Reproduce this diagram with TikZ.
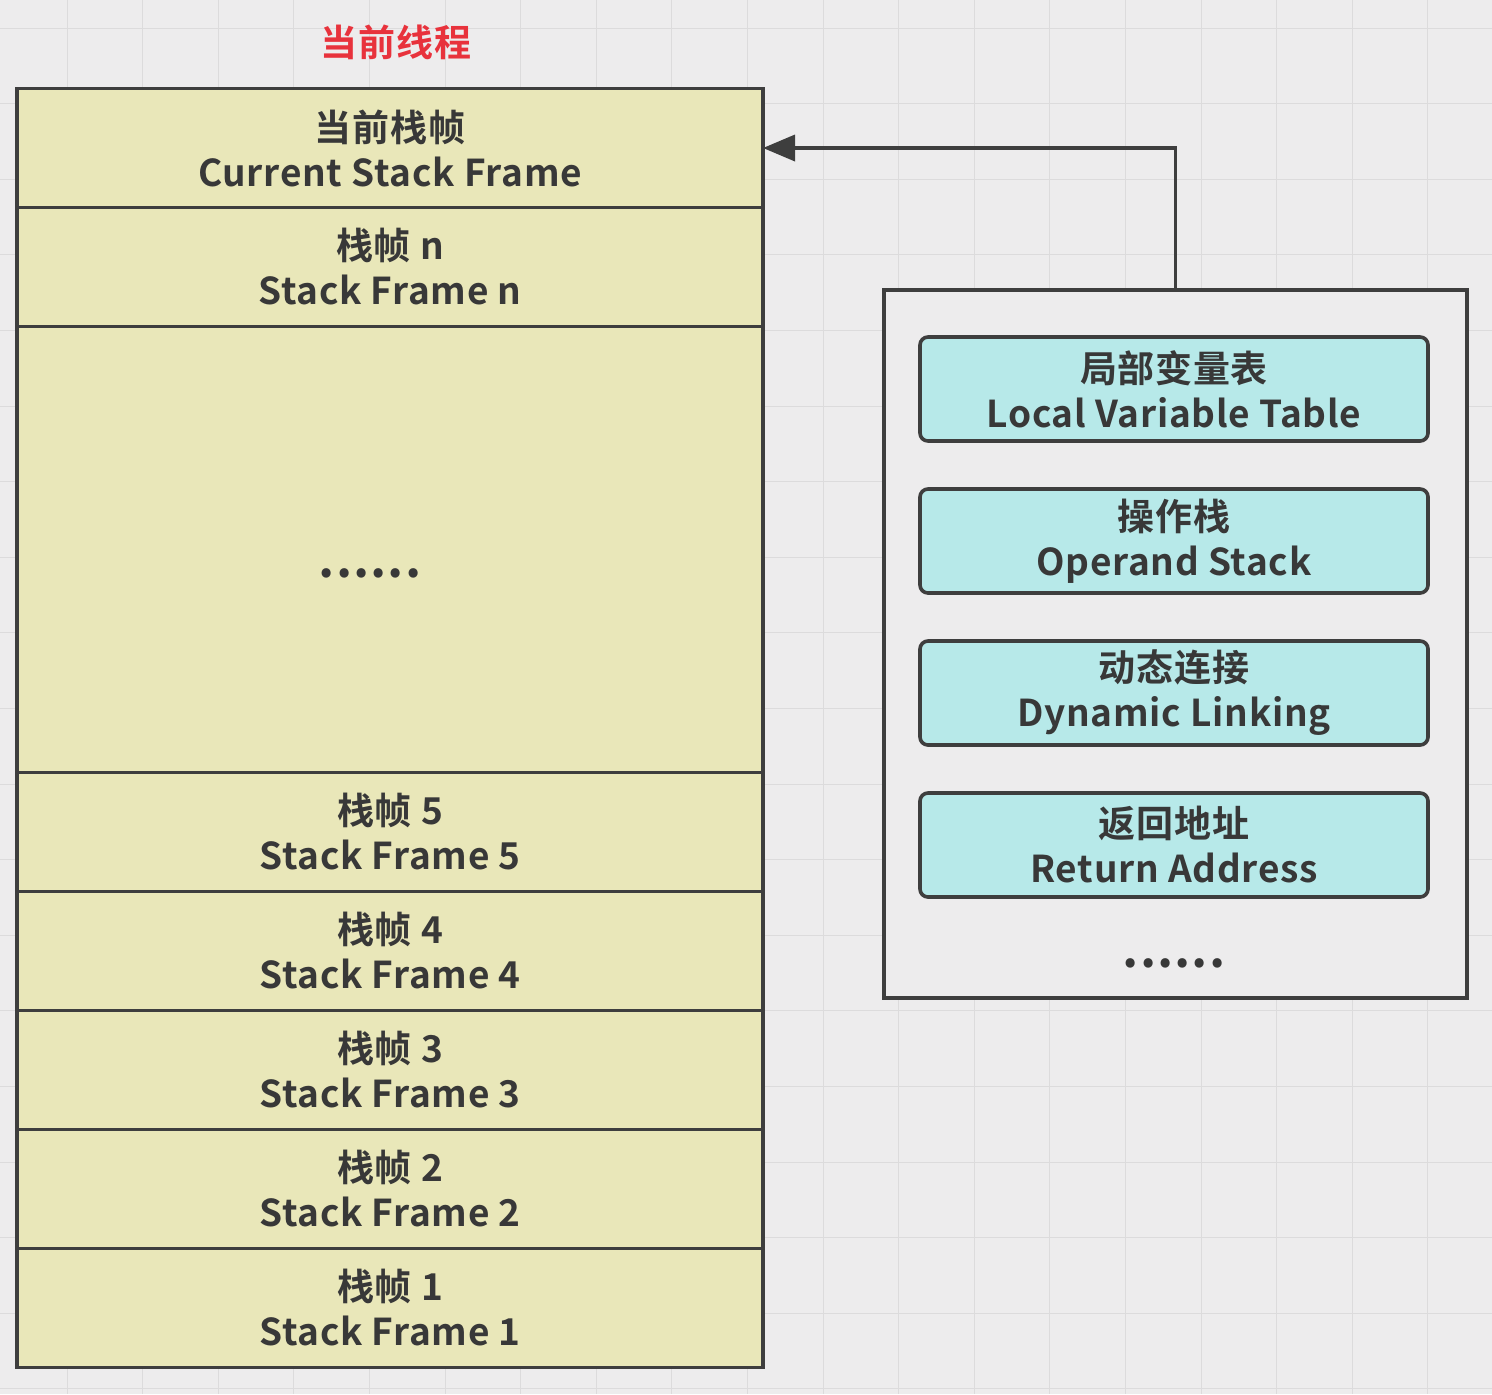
\documentclass[tikz,border=0pt]{standalone}
\usepackage{fontspec}
\setmainfont{Noto Sans CJK SC}[BoldFont={Noto Sans CJK SC Bold}, LetterSpace=2.0]
\usetikzlibrary{positioning,arrows.meta}

\definecolor{framefill}{HTML}{E9E7B9}
\definecolor{partfill}{HTML}{B7E9E9}
\definecolor{edge}{HTML}{3E3E3E}
\definecolor{paper}{HTML}{EDECED}
\definecolor{gridline}{HTML}{DCDBDC}
\definecolor{titlered}{HTML}{E8323C}

\newcommand{\dotrow}{{\fontsize{25pt}{25pt}\selectfont .\kern0.5pt.\kern0.5pt.\kern0.5pt.\kern0.5pt.\kern0.5pt.}}

\begin{document}
\begin{tikzpicture}[
  x = 0.5pt, y = -0.5pt,
  font = \fontsize{18.5pt}{22.5pt}\selectfont\bfseries,
  every node/.style = {align=center, text=black!78},
  stackbox/.style = {draw=edge, fill=framefill, line width=1.8pt,
                     outer sep=0pt, minimum width=373pt, minimum height=59.5pt},
  partbox/.style  = {draw=edge, fill=partfill, line width=1.8pt, outer sep=0pt,
                     rounded corners=4pt, minimum width=254pt, minimum height=52pt},
  holder/.style   = {draw=edge, fill=paper, line width=1.8pt,
                     minimum width=291.5pt, minimum height=354pt},
  link/.style     = {-{Triangle[length=16pt,width=13pt]}, line width=1.8pt,
                     draw=edge},
]

% Paper and grid
\fill[paper] (0,0) rectangle (1492,1394);
\useasboundingbox (0,0) rectangle (1492,1394);
\foreach \gx in {0,...,19} \draw[gridline, line width=0.5pt] (67+75.6*\gx,0) -- (67+75.6*\gx,1394);
\foreach \gy in {0,...,18} \draw[gridline, line width=0.5pt] (0,28+75.6*\gy) -- (1492,28+75.6*\gy);

% Title
\node[text=titlered] (thread) at (396,42) {当前线程};

% Left column: the stack
\node[stackbox] (cur) at (390,148)         {当前栈帧\\Current Stack Frame};
\node[stackbox, below=0pt of cur] (fn)     {栈帧 n\\Stack Frame n};
\node[stackbox, below=0pt of fn, minimum height=223pt] (gap) {};
\node[stackbox, below=0pt of gap] (f5)     {栈帧 5\\Stack Frame 5};
\node[stackbox, below=0pt of f5] (f4)      {栈帧 4\\Stack Frame 4};
\node[stackbox, below=0pt of f4] (f3)      {栈帧 3\\Stack Frame 3};
\node[stackbox, below=0pt of f3] (f2)      {栈帧 2\\Stack Frame 2};
\node[stackbox, below=0pt of f2] (f1)      {栈帧 1\\Stack Frame 1};
\node[anchor=base] (gapdots) at (370,577)  {\dotrow};

% Right column: inside a frame
\node[holder] (frame) at (1175.5,644) {};
\node[partbox] (lvt) at (1174,389)         {局部变量表\\Local Variable Table};
\node[partbox, below=24pt of lvt] (ops)    {操作栈\\Operand Stack};
\node[partbox, below=24pt of ops] (dyn)    {动态连接\\Dynamic Linking};
\node[partbox, below=24pt of dyn] (ret)    {返回地址\\Return Address};
\node[anchor=base] (more) at (1174,967)    {\dotrow};

% Edge
\draw[link] (frame.north) |- (cur.east);

\end{tikzpicture}
\end{document}
